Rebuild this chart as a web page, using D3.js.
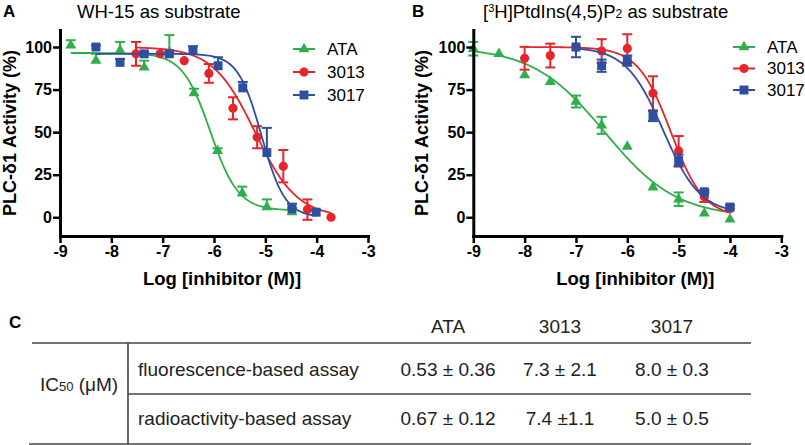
<!DOCTYPE html>
<html><head><meta charset="utf-8">
<script src="https://cdn.jsdelivr.net/npm/d3@7"></script>
<style>
body{margin:0;background:#fff}
svg{display:block;font-family:"Liberation Sans",Arial,Helvetica,sans-serif}
</style>
</head><body>
<svg id="c" width="805" height="445"></svg>
<script>
// ---------------- data ----------------
const xTicks = [-9,-8,-7,-6,-5,-4,-3];
const yTicks = [0,25,50,75,100];
const seriesNames = ["ATA","3013","3017"];

// Panel A : WH-15 as substrate
const aX_ATA  = [-8.79,-8.30,-7.83,-7.36,-6.87,-6.39,-5.93,-5.45,-4.97,-4.48];
const aY_ATA  = [101,92,98,88,97,73,39,14,6,3];
const aE_ATA  = [3,4,5,4,10,2.5,1.5,4,4.5,2.5];
const aX_3013 = [-7.52,-7.05,-6.58,-6.10,-5.63,-5.16,-4.65,-4.18,-3.72];
const aY_3013 = [96,96,92,84.5,64,47,30,4.5,0];
const aE_3013 = [7,0,0,5.5,6.5,6.5,9.5,6,0];
const aX_3017 = [-8.30,-7.83,-7.36,-6.87,-6.41,-5.92,-5.44,-4.97,-4.48,-4.01];
const aY_3017 = [100,91,96,96,98,89,76,38,5,3];
const aE_3017 = [1,2,1,1,2.5,5,3.5,14.5,3,1];
// fitted curves: [top, bottom, logIC50, hill]
const aFit_ATA  = [96.5,4,-6.07,1.6];
const aFit_3013 = [100,0,-5.2,1.06];
const aFit_3017 = [96,0,-5.075,1.9];

// Panel B : [3H]PtdIns(4,5)P2 as substrate
const bX_ATA  = [-9,-8.5,-8,-7.5,-7,-6.5,-6,-5.5,-5,-4.5,-4];
const bY_ATA  = [99,96,83.5,79.5,68,54,41.5,17.6,10.6,2.3,-1.2];
const bE_ATA  = [4,0,0,0,3.5,5,0,0,4,0,0];
const bX_3013 = [-8,-7.5,-7,-6.5,-6,-5.5,-5,-4.5,-4];
const bY_3013 = [93.4,95,100,97.6,99.2,72.8,39,12,5];
const bE_3013 = [6.7,7,0,7,8.3,10,8.7,3,0];
const bX_3017 = [-7,-6.5,-6,-5.5,-5,-4.5,-4];
const bY_3017 = [100,89,92,59.5,33.3,15,6];
const bE_3017 = [6,3.6,3,3,3.5,1,1];
const bFit_ATA  = [100,0,-6.44,0.62];
const bFit_3013 = [100,0,-5.15,1.35];
const bFit_3017 = [100,2,-5.3,1.2];

// Table C
const tableCols = ["ATA","3013","3017"];
const tableRows = ["fluorescence-based assay","radioactivity-based assay"];
const tableVals = [["0.53 \u00b1 0.36","7.3 \u00b1 2.1","8.0 \u00b1 0.3"],
                   ["0.67 \u00b1 0.12","7.4 \u00b11.1","5.0 \u00b1 0.5"]];

// ---------------- drawing ----------------
const svg = d3.select("#c");
const colors = {"ATA":"#2fae4a","3013":"#e8242b","3017":"#2d4ea1"};
const symType = {"ATA":d3.symbolTriangle,"3013":d3.symbolCircle,"3017":d3.symbolSquare};
const symSize = {"ATA":52,"3013":66,"3017":80};
const fourPL = (p,x) => p[1] + (p[0]-p[1])/(1+Math.pow(10,(x-p[2])*p[3]));

function drawPanel(cfg){
  const x = d3.scaleLinear().domain([-9,-3]).range([cfg.x0, cfg.x0+308]);
  const y = d3.scaleLinear().domain([-11,110]).range([236,30]);
  const g = svg.append("g");

  // series
  cfg.series.forEach(s=>{
    const col = colors[s.name];
    const xs = d3.range(0,201).map(i=> s.X[0] + (s.X[s.X.length-1]-s.X[0])*i/200);
    g.append("path").datum(xs)
      .attr("fill","none").attr("stroke",col).attr("stroke-width",1.8)
      .attr("d", d3.line().x(d=>x(d)).y(d=>y(fourPL(s.fit,d))));
    s.X.forEach((xv,i)=>{
      const e = s.E[i];
      if(e>0){
        const top = y(s.Y[i]+e), bot = s.up ? y(s.Y[i]) : y(s.Y[i]-e);
        g.append("line").attr("x1",x(xv)).attr("x2",x(xv)).attr("y1",top).attr("y2",bot)
          .attr("stroke",col).attr("stroke-width",2);
        g.append("line").attr("x1",x(xv)-5).attr("x2",x(xv)+5).attr("y1",top).attr("y2",top)
          .attr("stroke",col).attr("stroke-width",2);
        if(!s.up) g.append("line").attr("x1",x(xv)-5).attr("x2",x(xv)+5).attr("y1",bot).attr("y2",bot)
          .attr("stroke",col).attr("stroke-width",2);
      }
    });
    g.selectAll(null).data(s.X.map((xv,i)=>[xv,s.Y[i]])).enter().append("path")
      .attr("transform",d=>`translate(${x(d[0])},${y(d[1])})`)
      .attr("d", d3.symbol().type(symType[s.name]).size(symSize[s.name]))
      .attr("fill",col);
  });

  // axes
  const ax = svg.append("g").attr("transform","translate(0,236)")
    .call(d3.axisBottom(x).tickValues(xTicks).tickFormat(d=>String(d)).tickSize(7).tickSizeOuter(0).tickPadding(3));
  const ay = svg.append("g").attr("transform",`translate(${cfg.x0},0)`)
    .call(d3.axisLeft(y).tickValues(yTicks).tickSize(7).tickSizeOuter(0).tickPadding(1));
  [ax,ay].forEach(a=>{
    a.select(".domain").attr("stroke","#000").attr("stroke-width",3).attr("stroke-linecap","square");
    a.selectAll(".tick line").attr("stroke","#000").attr("stroke-width",2.5);
    a.selectAll(".tick text").attr("fill","#000").style("font-size","16px").style("font-weight","bold")
      .style("font-family","'Liberation Sans',Arial,sans-serif");
  });

  // axis titles
  svg.append("text").attr("x",cfg.x0+162).attr("y",285).attr("text-anchor","middle")
    .style("font-size","18.5px").style("font-weight","bold").text("Log [inhibitor (M)]");
  svg.append("text").attr("transform",`translate(${cfg.ylabX},133) rotate(-90)`).attr("text-anchor","middle")
    .style("font-size","18px").style("font-weight","bold").text("PLC-\u03b41 Activity (%)");

  // panel letter & title
  svg.append("text").attr("x",cfg.letterX).attr("y",17).style("font-size","17px").style("font-weight","bold").text(cfg.letter);
  const t = svg.append("text").attr("x",cfg.titleX).attr("y",18).style("font-size","18.5px");
  cfg.title(t);

  // legend
  seriesNames.forEach((n,i)=>{
    const ly = cfg.legY[i];
    svg.append("line").attr("x1",cfg.legX).attr("x2",cfg.legX+22).attr("y1",ly).attr("y2",ly)
      .attr("stroke",colors[n]).attr("stroke-width",2);
    svg.append("path").attr("transform",`translate(${cfg.legX+11},${ly})`)
      .attr("d",d3.symbol().type(symType[n]).size(symSize[n])).attr("fill",colors[n]);
    svg.append("text").attr("x",cfg.legX+34).attr("y",ly).attr("dy","0.35em")
      .style("font-size","17px").text(n);
  });
}

drawPanel({
  x0:60, ylabX:16, letter:"A", letterX:3, titleX:77,
  title: t=>t.text("WH-15 as substrate"),
  legX:293, legY:[49,72,95],
  series:[
    {name:"ATA", X:aX_ATA, Y:aY_ATA, E:aE_ATA, fit:aFit_ATA, up:true},
    {name:"3013",X:aX_3013,Y:aY_3013,E:aE_3013,fit:aFit_3013,up:false},
    {name:"3017",X:aX_3017,Y:aY_3017,E:aE_3017,fit:aFit_3017,up:true}
  ]
});
drawPanel({
  x0:473.3, ylabX:428, letter:"B", letterX:412, titleX:483,
  title: t=>{
    t.append("tspan").text("[");
    t.append("tspan").attr("dy",-6).style("font-size","11px").text("3");
    t.append("tspan").attr("dy",6).text("H]PtdIns(4,5)P");
    t.append("tspan").style("font-size","12px").text("2");
    t.append("tspan").text(" as substrate");
  },
  legX:733, legY:[47,68.5,90],
  series:[
    {name:"ATA", X:bX_ATA, Y:bY_ATA, E:bE_ATA, fit:bFit_ATA, up:false},
    {name:"3013",X:bX_3013,Y:bY_3013,E:bE_3013,fit:bFit_3013,up:false},
    {name:"3017",X:bX_3017,Y:bY_3017,E:bE_3017,fit:bFit_3017,up:false}
  ]
});

// ---------------- table C ----------------
const tc = svg.append("g").style("font-size","19px").attr("fill","#222");
svg.append("text").attr("x",9).attr("y",328).style("font-size","17px").style("font-weight","bold").text("C");
const colX = [448,560,672];
tableCols.forEach((c,i)=> tc.append("text").attr("x",colX[i]).attr("y",333).attr("text-anchor","middle").text(c));
const lineStyle = l=> l.attr("stroke","#444").attr("stroke-width",1.6);
lineStyle(tc.append("line").attr("x1",32).attr("x2",751).attr("y1",343).attr("y2",343));
lineStyle(tc.append("line").attr("x1",128).attr("x2",751).attr("y1",394).attr("y2",394));
lineStyle(tc.append("line").attr("x1",29).attr("x2",751).attr("y1",444).attr("y2",444));
lineStyle(tc.append("line").attr("x1",128).attr("x2",128).attr("y1",343).attr("y2",444));
const rowY = [376,425];
tableRows.forEach((r,i)=>{
  tc.append("text").attr("x",138).attr("y",rowY[i]).text(r);
  tableVals[i].forEach((v,j)=> tc.append("text").attr("x",colX[j]).attr("y",rowY[i]).attr("text-anchor","middle").text(v));
});
const ic = tc.append("text").attr("x",40).attr("y",391);
ic.append("tspan").text("IC");
ic.append("tspan").style("font-size","13px").text("50");
ic.append("tspan").text(" (\u03bcM)");
</script>
</body></html>
